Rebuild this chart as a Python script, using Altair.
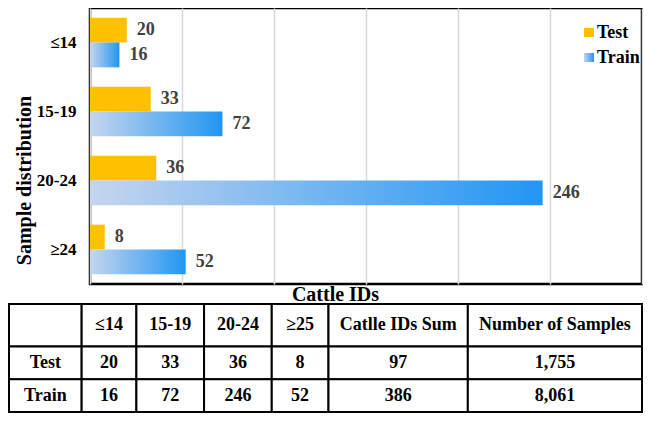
import altair as alt
import pandas as pd

# ---------------- data ----------------
categories = ["≤14", "15-19", "20-24", "≥24"]
series = ["Test", "Train"]
test_values = [20, 33, 36, 8]
train_values = [16, 72, 246, 52]

table_header = ["", "≤14", "15-19", "20-24", "≥25", "Catlle IDs Sum", "Number of Samples"]
table_test = ["Test", "20", "33", "36", "8", "97", "1,755"]
table_train = ["Train", "16", "72", "246", "52", "386", "8,061"]

x_ticks = [0, 50, 100, 150, 200, 250, 300]

# ---------------- layout ----------------
FONT = "Liberation Serif, Times New Roman, serif"
W, H = 552, 276
col_widths = [73, 55, 68, 68, 57, 140, 175]
row_heights = [44, 34, 34]

bars_df = pd.DataFrame({
    "cat": categories * 2,
    "series": ["Test"] * len(categories) + ["Train"] * len(categories),
    "value": test_values + train_values,
})

y_enc = alt.Y(
    "cat:N", sort=categories,
    scale=alt.Scale(paddingInner=0.28, paddingOuter=0.14),
    axis=alt.Axis(
        title="Sample distribution", ticks=False, domain=False,
        labelFont=FONT, labelFontSize=17, labelFontWeight="bold", labelColor="black",
        labelPadding=14,
        titleFont=FONT, titleFontSize=20, titleFontWeight="bold", titleColor="black",
        titleX=-66, titleY=172, titleAngle=-90, titleBaseline="middle", titleAlign="center",
    ),
)
yoff = alt.YOffset("series:N", scale=alt.Scale(domain=series))
x_enc = alt.X(
    "value:Q",
    scale=alt.Scale(domain=[0, 300], nice=False),
    axis=alt.Axis(
        values=x_ticks, labels=False, ticks=False, domain=False,
        grid=True, gridColor="#D9D9D9", gridWidth=1.5,
        title="Cattle IDs", titleFont=FONT, titleFontSize=20, titleFontWeight="bold",
        titleColor="black", titleX=245, titleY=10, titleBaseline="middle", titleAlign="center",
    ),
)

base = alt.Chart(bars_df)

test_bars = base.transform_filter(alt.datum.series == "Test").mark_bar(
    color="#FFC000"
).encode(x=x_enc, y=y_enc, yOffset=yoff)

train_grad = alt.LinearGradient(
    gradient="linear",
    stops=[alt.GradientStop(offset=0, color="#C5D5EE"),
           alt.GradientStop(offset=1, color="#2196F3")],
    x1=0, x2=1, y1=0, y2=0,
)
train_bars = base.transform_filter(alt.datum.series == "Train").mark_bar(
    color=train_grad
).encode(x=x_enc, y=y_enc, yOffset=yoff)

labels = base.mark_text(
    align="left", baseline="middle", dx=10,
    font=FONT, fontSize=18, fontWeight="bold", color="#404040",
).encode(x=x_enc, y=y_enc, yOffset=yoff, text="value:Q")

leg_df = pd.DataFrame({"label": ["legend"]})
leg = alt.Chart(leg_df)
leg_test_sw = leg.mark_rect(color="#FFC000").encode(
    x=alt.value(494), x2=alt.value(504), y=alt.value(20), y2=alt.value(29))
leg_train_sw = leg.mark_rect(color=train_grad).encode(
    x=alt.value(494), x2=alt.value(504), y=alt.value(45), y2=alt.value(54))
leg_test_tx = leg.mark_text(
    align="left", baseline="middle", font=FONT, fontSize=18, fontWeight="bold", color="black"
).encode(x=alt.value(507), y=alt.value(25), text=alt.value(series[0]))
leg_train_tx = leg.mark_text(
    align="left", baseline="middle", font=FONT, fontSize=18, fontWeight="bold", color="black"
).encode(x=alt.value(507), y=alt.value(50), text=alt.value(series[1]))

bar_group = alt.layer(test_bars, train_bars, labels,
                      leg_test_sw, leg_train_sw, leg_test_tx, leg_train_tx)

# ---------------- table ----------------
rows = [table_header, table_test, table_train]
cells = []
y0 = 0
for r, row in enumerate(rows):
    x0 = 0
    for c, txt in enumerate(row):
        cells.append({
            "x0": x0, "x1": x0 + col_widths[c],
            "y0": y0, "y1": y0 + row_heights[r],
            "xm": x0 + col_widths[c] / 2, "ym": y0 + row_heights[r] / 2,
            "text": txt,
        })
        x0 += col_widths[c]
    y0 += row_heights[r]
cells_df = pd.DataFrame(cells)

tx = alt.Scale(domain=[0, sum(col_widths)], range=[-81, 552], nice=False, zero=False)
ty = alt.Scale(domain=[0, sum(row_heights)], range=[296, 404], nice=False, zero=False)

tab = alt.Chart(cells_df)
tab_rect = tab.mark_rect(fill="white", stroke="black", strokeWidth=2).encode(
    x=alt.X("x0:Q", scale=tx, axis=None), x2="x1",
    y=alt.Y("y0:Q", scale=ty, axis=None), y2="y1",
)
tab_text = tab.mark_text(
    font=FONT, fontSize=18, fontWeight="bold", color="black", baseline="middle"
).encode(
    x=alt.X("xm:Q", scale=tx, axis=None),
    y=alt.Y("ym:Q", scale=ty, axis=None),
    text="text:N",
)
table_group = alt.layer(tab_rect, tab_text)

chart = alt.layer(bar_group, table_group).resolve_scale(
    x="independent", y="independent"
).properties(
    width=W, height=H, padding=0
).configure_view(
    stroke="black", strokeWidth=2.5
)

chart.save("out.html", embed_options={"renderer": "svg", "actions": False})
